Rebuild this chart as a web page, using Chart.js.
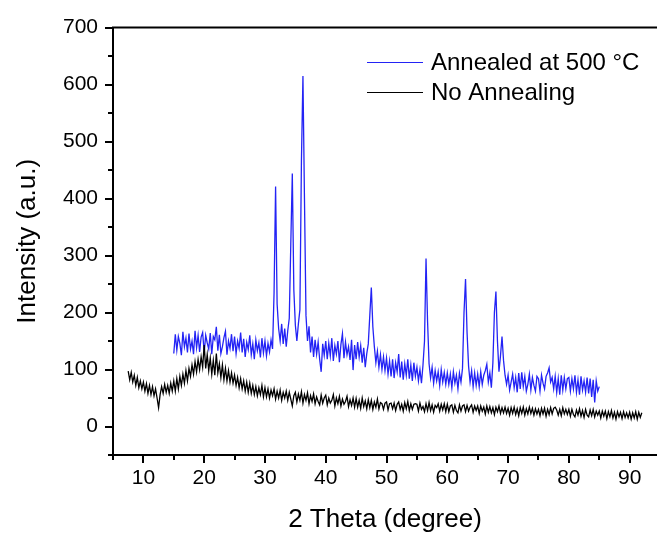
<!DOCTYPE html>
<html>
<head>
<meta charset="utf-8">
<script src="https://cdn.jsdelivr.net/npm/chart.js@4.4.1/dist/chart.umd.min.js"></script>
<style>
  body { margin: 0; background: #fff; }
  #wrap { width: 657px; height: 535px; }
</style>
</head>
<body>
<div id="wrap"><canvas id="xrd" width="657" height="535"></canvas></div>
<script>
// 2 theta sampling: start angle and step (degrees)
const annealedStart = 15;
const noAnnealStart = 7.5;
const step = 0.25;

// Annealed at 500 °C, 15 .. 85 deg, one row = 5 deg
const annealed = [
  128,162,134,158,146,125,166,140,155,130,163,136,150,127,168,138,160,131,157,165,
  129,160,147,136,164,127,158,152,175,133,161,128,140,156,167,126,150,137,162,132,
  158,128,150,137,165,130,154,122,148,135,160,126,145,118,152,133,147,121,155,129,
  150,124,146,131,152,136,235,421,215,172,150,180,145,172,140,168,190,320,444,240,
  178,150,180,205,465,615,400,195,150,176,130,158,122,152,127,148,118,96,145,125,
  150,118,146,124,155,115,142,127,150,113,144,163,120,148,126,140,117,152,99,143,
  118,148,122,142,112,138,104,128,145,195,244,175,140,112,132,104,126,100,122,98,
  120,92,115,88,118,85,112,96,127,86,114,82,110,90,118,84,108,80,112,88,
  104,80,100,76,108,150,295,185,110,85,104,76,98,80,96,72,100,78,95,74,
  94,74,92,68,96,76,90,66,94,78,102,200,259,165,106,78,98,70,94,72,
  92,70,96,74,90,98,109,78,94,68,112,200,237,150,96,124,158,116,90,74,
  90,64,78,92,68,86,60,94,66,95,70,88,62,74,92,64,86,72,62,88,
  84,62,90,76,66,88,94,103,78,86,66,88,60,84,56,90,64,86,66,84,
  86,62,84,66,90,60,82,56,88,64,80,60,86,58,84,52,82,42,80,62,
  70
];

// No annealing, 7.5 .. 92 deg
const noAnneal = [
  97,82,95,78,90,72,86,68,80,66,
  78,62,75,58,72,56,70,54,66,50,33,56,70,58,74,60,72,58,76,62,
  80,62,84,66,88,72,92,76,98,80,102,88,108,92,114,96,118,100,122,104,
  143,102,126,98,120,92,116,90,128,94,110,86,108,82,102,80,98,78,94,76,
  90,72,86,68,84,66,80,62,78,60,76,58,72,56,70,54,68,56,72,52,
  68,52,66,50,64,54,66,48,62,50,64,46,60,50,62,46,60,48,36,54,
  60,43,57,46,61,41,56,46,59,40,54,44,57,40,52,44,38,55,41,50,
  55,38,50,41,46,56,36,50,40,53,36,48,39,44,53,35,47,37,50,34,
  49,34,46,32,50,35,45,31,47,33,46,30,43,34,48,31,42,40,30,41,
  43,29,40,41,31,41,28,39,43,30,39,27,42,31,44,28,40,30,39,40,
  39,27,41,30,35,26,40,28,42,28,38,25,37,33,40,27,39,29,40,26,
  39,26,36,38,25,37,28,24,38,27,36,38,26,37,27,34,38,25,36,28,
  36,23,36,27,34,22,36,25,35,24,33,21,34,26,36,23,33,24,34,23,
  32,20,33,23,34,21,31,19,33,23,34,20,31,22,34,23,32,20,31,22,
  30,19,32,22,32,18,30,21,33,22,32,34,29,20,30,19,33,22,30,21,
  30,18,30,21,17,29,20,31,18,28,16,30,20,17,29,19,30,17,27,20,
  27,15,27,18,27,14,26,17,28,15,25,13,26,17,25,14,26,16,24,15,
  25,13,24,15,26,13,25,16,24
];

const seriesLabels = ['Annealed at 500 \u00B0C', 'No Annealing'];
const xTitle = '2 Theta (degree)';
const yTitle = 'Intensity (a.u.)';

const FONT = "'Liberation Sans', Arial, sans-serif";

const toPoints = (start, vals) => vals.map((v, i) => ({ x: start + i * step, y: v }));

// ticks drawn by hand so major/minor can have different lengths
const tickMarks = {
  id: 'tickMarks',
  afterDraw(chart) {
    const { ctx, chartArea } = chart;
    const xs = chart.scales.x, ys = chart.scales.y;
    ctx.save();
    ctx.strokeStyle = '#000';
    ctx.lineWidth = 2;
    ctx.beginPath();
    xs.ticks.forEach(t => {
      if (t.value % 5 !== 0) return;
      const len = t.value % 10 === 0 ? 8 : 5;
      const px = Math.round(xs.getPixelForValue(t.value));
      ctx.moveTo(px, chartArea.bottom);
      ctx.lineTo(px, chartArea.bottom + len);
    });
    ys.ticks.forEach(t => {
      const len = t.value % 100 === 0 ? 8 : 5;
      const py = Math.round(ys.getPixelForValue(t.value));
      ctx.moveTo(chartArea.left, py);
      ctx.lineTo(chartArea.left - len, py);
    });
    // top frame line
    ctx.moveTo(chartArea.left - 1, chartArea.top);
    ctx.lineTo(chartArea.right, chartArea.top);
    ctx.stroke();
    ctx.restore();
  }
};

// legend inside the plot, top right
const insideLegend = {
  id: 'insideLegend',
  afterDraw(chart) {
    const { ctx } = chart;
    ctx.save();
    ctx.font = '24px ' + FONT;
    ctx.textBaseline = 'middle';
    ctx.fillStyle = '#000';
    chart.data.datasets.forEach((ds, i) => {
      const y = 62 + i * 30;
      ctx.strokeStyle = ds.borderColor;
      ctx.lineWidth = 1;
      ctx.beginPath();
      ctx.moveTo(367, y + 0.5);
      ctx.lineTo(423, y + 0.5);
      ctx.stroke();
      ctx.fillText(ds.label, 431, y + 1);
    });
    ctx.restore();
  }
};

new Chart(document.getElementById('xrd'), {
  type: 'line',
  data: {
    datasets: [
      {
        label: seriesLabels[0],
        data: toPoints(annealedStart, annealed),
        borderColor: 'rgb(35,35,245)',
        borderWidth: 1.3,
        pointRadius: 0,
        tension: 0,
        order: 2
      },
      {
        label: seriesLabels[1],
        data: toPoints(noAnnealStart, noAnneal),
        borderColor: '#000',
        borderWidth: 1.3,
        pointRadius: 0,
        tension: 0,
        order: 1
      }
    ]
  },
  options: {
    responsive: false,
    animation: false,
    layout: { padding: { top: 22, right: 0, left: 0, bottom: 0 } },
    plugins: { legend: { display: false }, tooltip: { enabled: false } },
    scales: {
      x: {
        type: 'linear',
        min: 5,
        max: 94.5,
        grid: { display: false, drawTicks: false },
        border: { display: true, color: '#000', width: 2 },
        ticks: {
          stepSize: 5,
          includeBounds: false,
          autoSkip: false,
          maxRotation: 0,
          padding: 11,
          color: '#000',
          font: { family: FONT, size: 21 },
          callback: v => (v % 10 === 0 ? v : '')
        },
        title: {
          display: true,
          text: xTitle,
          color: '#000',
          font: { family: FONT, size: 26 },
          padding: { top: 0, bottom: 0 }
        },
        afterFit: s => { s.height = 80; }
      },
      y: {
        min: -50,
        max: 700,
        grid: { display: false, drawTicks: false },
        border: { display: true, color: '#000', width: 2 },
        ticks: {
          stepSize: 50,
          autoSkip: false,
          padding: 15,
          color: '#000',
          font: { family: FONT, size: 21 },
          callback: v => (v % 100 === 0 && v >= 0 ? v : '')
        },
        title: {
          display: true,
          text: yTitle,
          color: '#000',
          font: { family: FONT, size: 26 },
          padding: { top: 12, bottom: 0 }
        },
        afterFit: s => { s.width = 113; }
      }
    }
  },
  plugins: [tickMarks, insideLegend]
});
</script>
</body>
</html>
